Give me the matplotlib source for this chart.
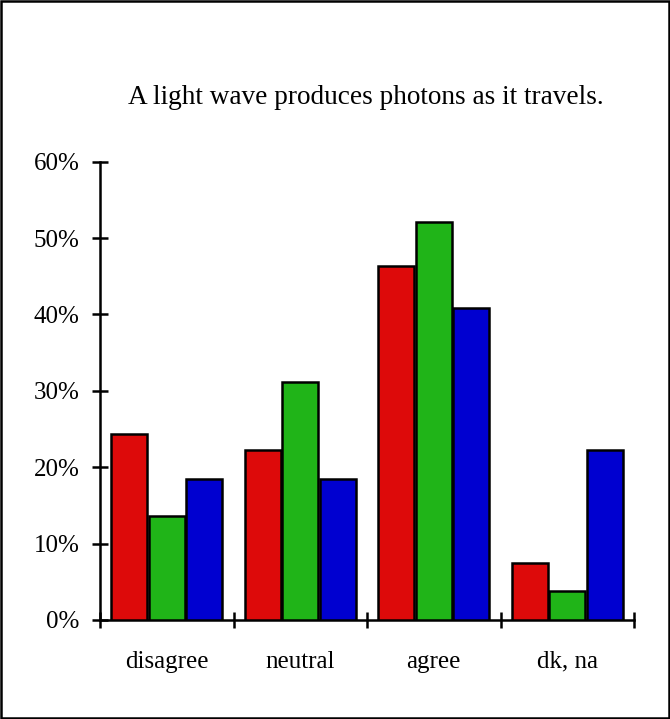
import matplotlib
matplotlib.use("Agg")
import matplotlib.pyplot as plt
import numpy as np
from matplotlib.patches import Rectangle

categories = ["disagree", "neutral", "agree", "dk, na"]
series_a = [24.4, 22.3, 46.4, 7.4]
series_b = [13.6, 31.1, 52.1, 3.8]
series_c = [18.5, 18.5, 40.9, 22.3]
yticks = [0, 10, 20, 30, 40, 50, 60]
ytick_labels = ["0%", "10%", "20%", "30%", "40%", "50%", "60%"]
title = "A light wave produces photons as it travels."

colors = ["#DD0A0A", "#20B418", "#0000D0"]

plt.rcParams["font.family"] = ["Liberation Serif", "DejaVu Serif"]

fig = plt.figure(figsize=(6.70, 7.19), dpi=100)
fig.patches.append(Rectangle((0.002, 0.002), 0.996, 0.996, transform=fig.transFigure,
                             fill=False, edgecolor="black", linewidth=1.8, zorder=10))

ax = fig.add_axes([100 / 670, 1 - 620 / 719, 534 / 670, (620 - 161.7) / 719])
x = np.arange(len(categories))
w = 0.27
pitch = 0.28
for i, (vals, c) in enumerate(zip([series_a, series_b, series_c], colors)):
    ax.bar(x + (i - 1) * pitch, vals, width=w, color=c, edgecolor="black",
           linewidth=1.8, zorder=3)

ax.set_xlim(-0.5, len(categories) - 0.5)
ax.set_ylim(0, 60)
for s in ["top", "right"]:
    ax.spines[s].set_visible(False)
for s in ["left", "bottom"]:
    ax.spines[s].set_linewidth(1.8)

ax.set_yticks(yticks)
ax.set_yticklabels(ytick_labels, fontsize=18)
ax.set_xticks(np.arange(len(categories) + 1) - 0.5)
ax.set_xticklabels([])
ax.set_xticks(x, minor=True)
ax.set_xticklabels(categories, minor=True, fontsize=18)
ax.tick_params(axis="y", direction="inout", length=11, width=1.8, pad=9)
ax.tick_params(axis="x", which="major", direction="inout", length=11, width=1.8)
ax.tick_params(axis="x", which="minor", length=0, pad=22)

fig.text(366 / 670, 1 - 97 / 719, title, ha="center", va="center", fontsize=19.6)

fig.savefig("out.png", dpi=100)
